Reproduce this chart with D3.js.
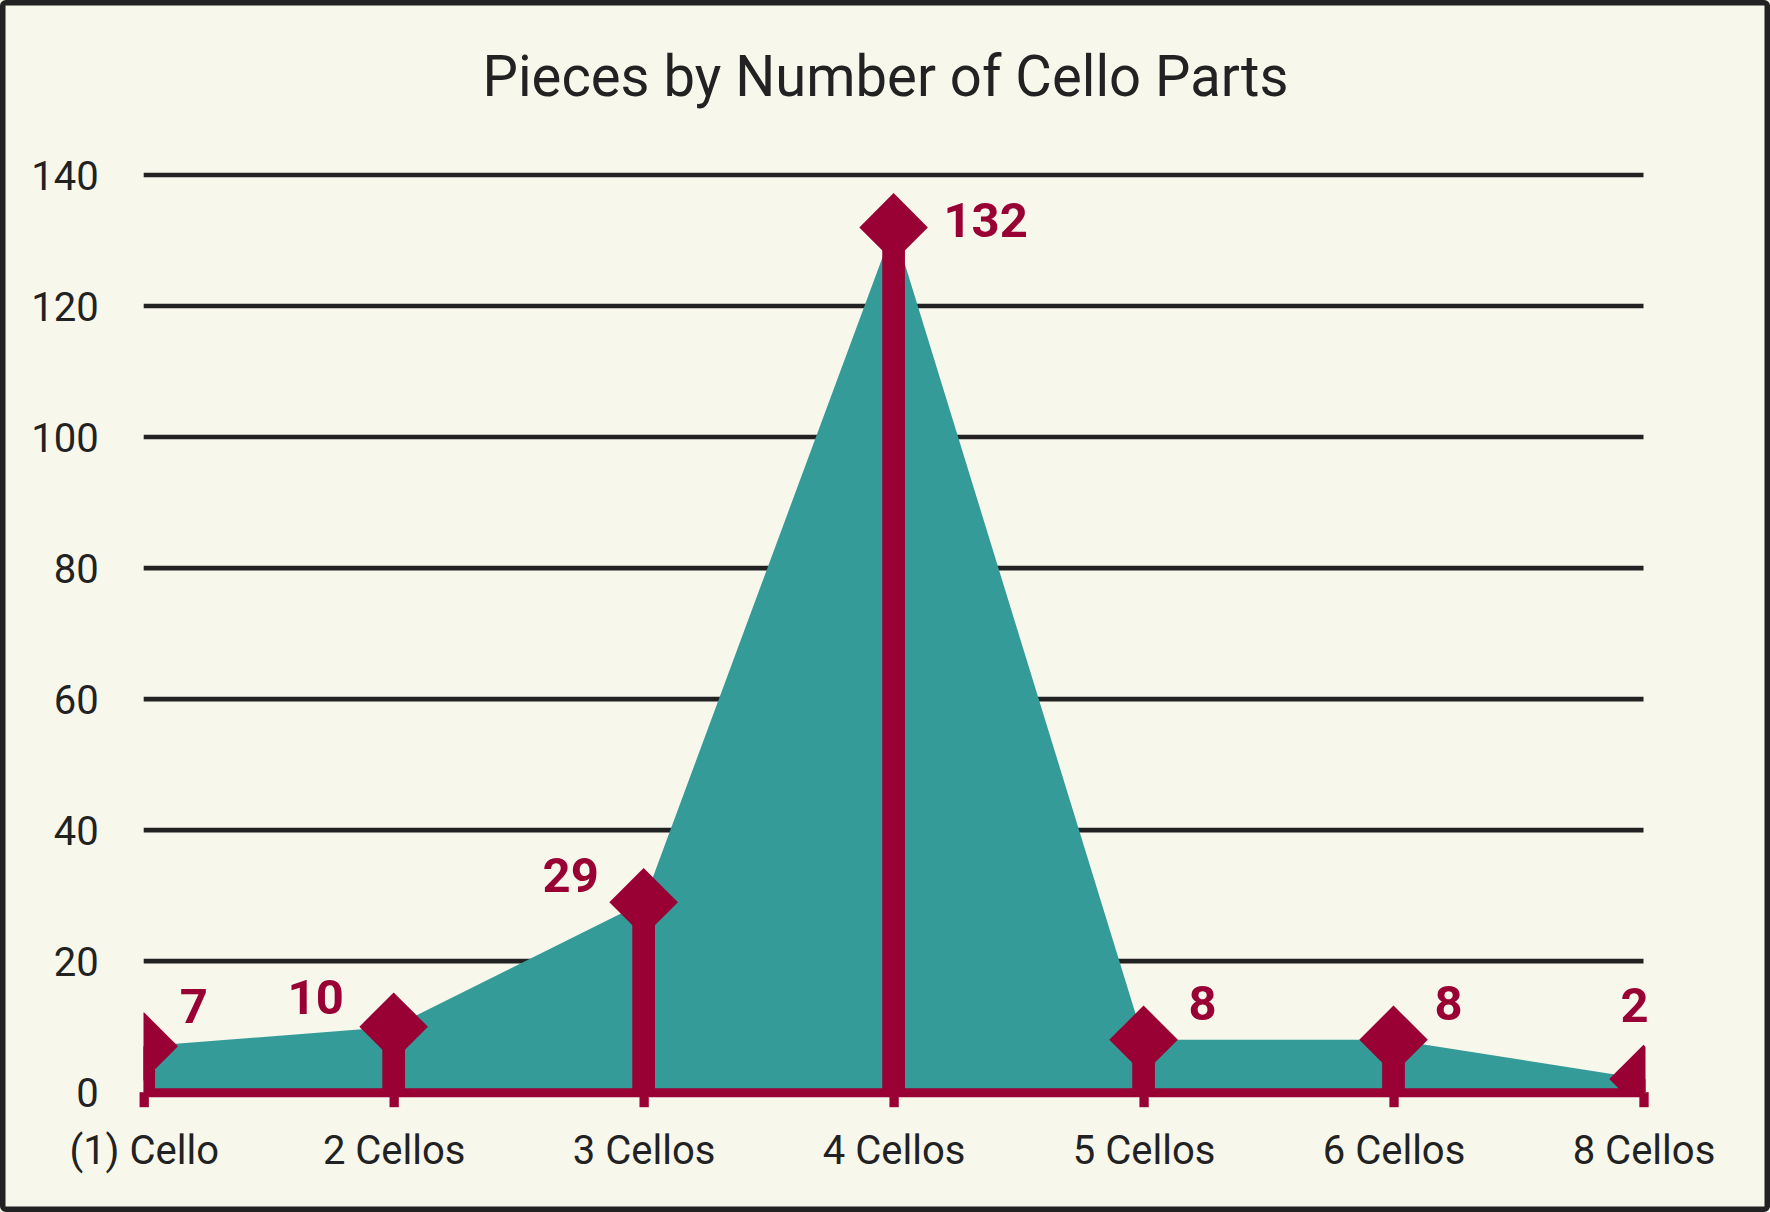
<!DOCTYPE html>
<html>
<head>
<meta charset="utf-8">
<script src="https://cdn.jsdelivr.net/npm/d3@7"></script>
<style>
  html, body { margin: 0; padding: 0; background: #F7F7EC; }
  svg { display: block; }
</style>
</head>
<body>
<svg id="chart" width="1770" height="1212"></svg>
<script>
// ---- data ----
const categories = ["(1) Cello", "2 Cellos", "3 Cellos", "4 Cellos", "5 Cellos", "6 Cellos", "8 Cellos"];
const values = [7, 10, 29, 132, 8, 8, 2];
const yTicks = [0, 20, 40, 60, 80, 100, 120, 140];
const title = "Pieces by Number of Cello Parts";

// ---- layout (label offsets from each point, in px) ----
const labelDx = [50, -78, -73, 92, 59, 55, -9];
const labelDy = [-41, -30, -28, -8, -37, -37, -75];

const W = 1770, H = 1212;
const BG = "#F7F7EC", TEAL = "#359B98", MAROON = "#990033", INK = "#222222";

const svg = d3.select("#chart");

svg.append("rect")
  .attr("x", 2.75).attr("y", 2.75)
  .attr("width", W - 5.5).attr("height", H - 5.5)
  .attr("rx", 3)
  .attr("fill", BG).attr("stroke", INK).attr("stroke-width", 5.5);

const x = d3.scalePoint().domain(categories).range([143.7, 1643.5]);
const y = d3.scaleLinear().domain([0, 140]).range([1092.2, 175]);

// title
svg.append("text")
  .attr("x", 885.5).attr("y", 95.7)
  .attr("text-anchor", "middle")
  .attr("font-family", "Roboto")
  .attr("font-size", 57)
  .attr("fill", INK)
  .attr("textLength", 806)
  .attr("lengthAdjust", "spacingAndGlyphs")
  .text(title);

// gridlines
svg.append("g").selectAll("line")
  .data(yTicks.filter(d => d > 0))
  .join("line")
  .attr("x1", x.range()[0]).attr("x2", x.range()[1])
  .attr("y1", d => y(d)).attr("y2", d => y(d))
  .attr("stroke", INK).attr("stroke-width", 4.6);

// y axis labels
const yAxis = svg.append("g")
  .attr("transform", `translate(${x.range()[0]},0)`)
  .call(d3.axisLeft(y).tickValues(yTicks).tickSize(0).tickPadding(45));
yAxis.select(".domain").remove();
yAxis.selectAll("text")
  .attr("font-family", "Roboto")
  .attr("font-size", 40)
  .attr("fill", INK)
  .attr("dy", "0.36em");

// area
const area = d3.area()
  .x((d, i) => x(categories[i]))
  .y0(y(0))
  .y1(d => y(d));
svg.append("path")
  .datum(values)
  .attr("d", area)
  .attr("fill", TEAL);

// x axis (maroon)
const xAxis = svg.append("g")
  .attr("transform", `translate(0,${y(0)})`)
  .call(d3.axisBottom(x).tickSize(15).tickSizeOuter(0).tickPadding(28));
xAxis.select(".domain")
  .attr("stroke", MAROON).attr("stroke-width", 9);
xAxis.selectAll(".tick line")
  .attr("stroke", MAROON).attr("stroke-width", 9.3);
xAxis.selectAll(".tick text")
  .attr("font-family", "Roboto")
  .attr("font-size", 40)
  .attr("fill", INK)
  .attr("dy", "0.71em");

// clip for stems and markers
svg.append("clipPath").attr("id", "plotclip")
  .append("rect")
  .attr("x", 143.5).attr("y", 100)
  .attr("width", 1645.5 - 143.5).attr("height", y(0) - 100);

const marks = svg.append("g").attr("clip-path", "url(#plotclip)");

// stems
marks.selectAll("line.stem")
  .data(values)
  .join("line")
  .attr("class", "stem")
  .attr("x1", (d, i) => x(categories[i]))
  .attr("x2", (d, i) => x(categories[i]))
  .attr("y1", y(0))
  .attr("y2", d => y(d))
  .attr("stroke", MAROON)
  .attr("stroke-width", 22.7);

// diamond markers
const diamond = d3.symbol().type(d3.symbolSquare).size(48.5 * 48.5);
marks.selectAll("path.marker")
  .data(values)
  .join("path")
  .attr("class", "marker")
  .attr("d", diamond)
  .attr("transform", (d, i) => `translate(${x(categories[i])},${y(d)}) rotate(45)`)
  .attr("fill", MAROON);

// data labels
svg.append("g").selectAll("text")
  .data(values)
  .join("text")
  .attr("x", (d, i) => x(categories[i]) + labelDx[i])
  .attr("y", (d, i) => y(d) + labelDy[i])
  .attr("dy", "0.36em")
  .attr("text-anchor", "middle")
  .attr("font-family", "Roboto")
  .attr("font-weight", "bold")
  .attr("font-size", 49)
  .attr("fill", MAROON)
  .text(d => d);
</script>
</body>
</html>
